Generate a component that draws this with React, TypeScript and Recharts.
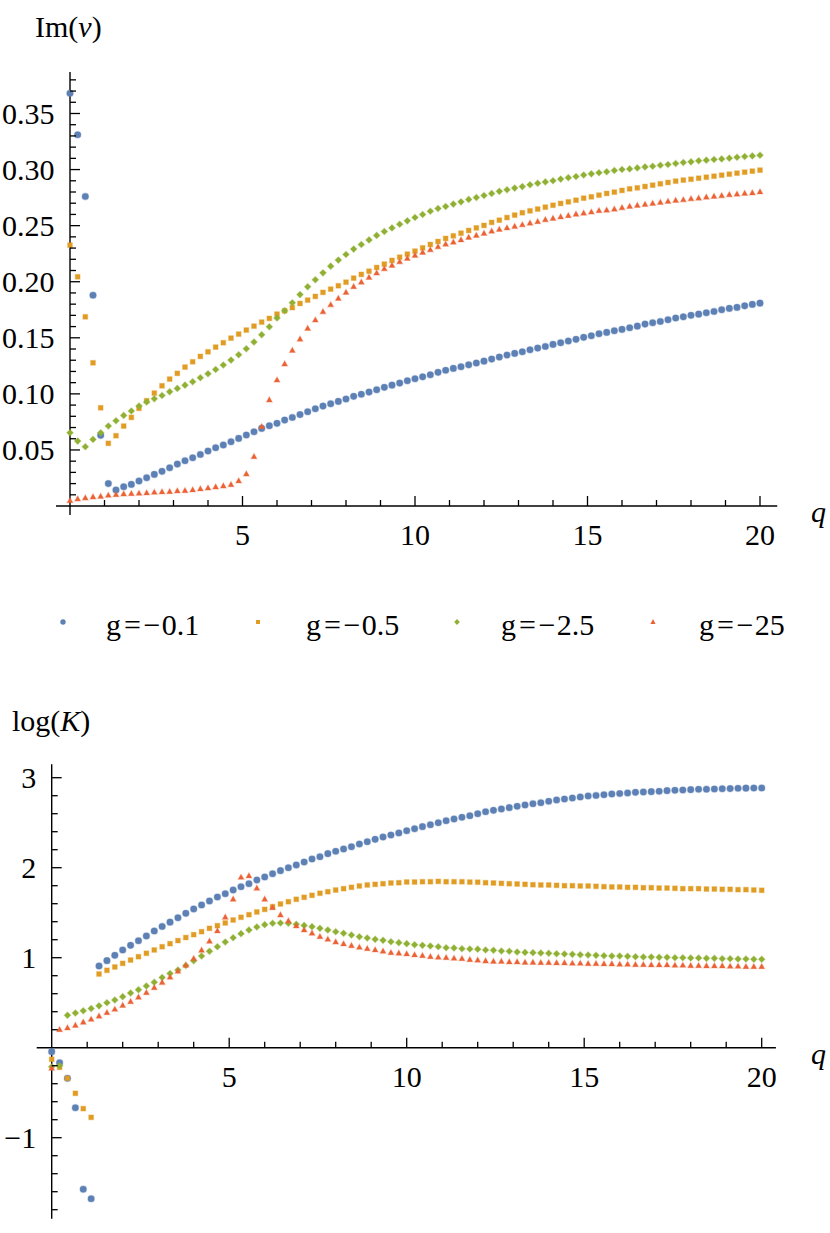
import React from 'react';
import { ScatterChart, Scatter, XAxis, YAxis, ReferenceLine } from 'recharts';

// q grid, 91 points from 0 to 20
const Q = [
  0, 0.222, 0.444, 0.667, 0.889, 1.111, 1.333, 1.556, 1.778,
  2, 2.222, 2.444, 2.667, 2.889, 3.111, 3.333, 3.556, 3.778,
  4, 4.222, 4.444, 4.667, 4.889, 5.111, 5.333, 5.556, 5.778,
  6, 6.222, 6.444, 6.667, 6.889, 7.111, 7.333, 7.556, 7.778,
  8, 8.222, 8.444, 8.667, 8.889, 9.111, 9.333, 9.556, 9.778,
  10, 10.222, 10.444, 10.667, 10.889, 11.111, 11.333, 11.556, 11.778,
  12, 12.222, 12.444, 12.667, 12.889, 13.111, 13.333, 13.556, 13.778,
  14, 14.222, 14.444, 14.667, 14.889, 15.111, 15.333, 15.556, 15.778,
  16, 16.222, 16.444, 16.667, 16.889, 17.111, 17.333, 17.556, 17.778,
  18, 18.222, 18.444, 18.667, 18.889, 19.111, 19.333, 19.556, 19.778,
  20,
];

// Im(nu)
const IM_G01 = [
  0.368, 0.331, 0.276, 0.188, 0.063, 0.020, 0.0143, 0.0172, 0.0193, 0.0223,
  0.0252, 0.0282, 0.0309, 0.0341, 0.0374, 0.0404, 0.043, 0.046, 0.049, 0.052,
  0.0544, 0.0573, 0.0603, 0.0633, 0.0662, 0.0692, 0.0716, 0.0737, 0.0766, 0.079,
  0.0815, 0.0841, 0.0867, 0.0891, 0.0912, 0.0933, 0.0954, 0.0978, 0.0996, 0.1016,
  0.1037, 0.1058, 0.1078, 0.1096, 0.1117, 0.1135, 0.1152, 0.117, 0.1192, 0.121,
  0.1227, 0.1242, 0.1259, 0.1275, 0.1292, 0.131, 0.1328, 0.1346, 0.1361, 0.1375,
  0.1393, 0.1408, 0.1423, 0.1441, 0.1456, 0.1471, 0.1486, 0.1504, 0.1518, 0.1536,
  0.1548, 0.1563, 0.1575, 0.1589, 0.1604, 0.1622, 0.1634, 0.1646, 0.1661, 0.1676,
  0.1687, 0.17, 0.1711, 0.1723, 0.1735, 0.175, 0.1762, 0.1771, 0.1785, 0.1798, 0.1809,
];
const IM_G05 = [
  0.2326, 0.2044, 0.1687, 0.1277, 0.0876, 0.0559, 0.0627, 0.0713, 0.079, 0.0871,
  0.0939, 0.1007, 0.1072, 0.1132, 0.1183, 0.1239, 0.1286, 0.1334, 0.1375, 0.1417,
  0.1456, 0.1497, 0.1533, 0.1569, 0.1604, 0.164, 0.1673, 0.1711, 0.1741, 0.1769,
  0.1806, 0.1836, 0.1869, 0.1905, 0.1934, 0.1964, 0.1996, 0.2032, 0.2065, 0.2094,
  0.2127, 0.2157, 0.219, 0.2219, 0.2246, 0.2273, 0.2302, 0.2332, 0.2359, 0.2386,
  0.2409, 0.2433, 0.2457, 0.248, 0.2502, 0.2529, 0.2549, 0.2572, 0.2594, 0.2615,
  0.2632, 0.2648, 0.2665, 0.2682, 0.2698, 0.2712, 0.2727, 0.2745, 0.2757, 0.2772,
  0.2787, 0.2799, 0.2814, 0.2828, 0.2837, 0.2849, 0.2861, 0.2873, 0.2885, 0.2897,
  0.2906, 0.2914, 0.2923, 0.2932, 0.2941, 0.295, 0.2959, 0.2968, 0.2977, 0.2986, 0.2995,
];
const IM_G25 = [
  0.0653, 0.0579, 0.0529, 0.0594, 0.0653, 0.0713, 0.076, 0.0808, 0.0847, 0.0891,
  0.0927, 0.0956, 0.0986, 0.1019, 0.1049, 0.1078, 0.1108, 0.1144, 0.1179, 0.1218,
  0.1257, 0.1301, 0.1349, 0.1402, 0.1462, 0.1527, 0.1598, 0.1676, 0.1741, 0.1812,
  0.1885, 0.1955, 0.2017, 0.2079, 0.2139, 0.2193, 0.2243, 0.2291, 0.2332, 0.2373,
  0.2413, 0.2448, 0.248, 0.2513, 0.2543, 0.2573, 0.26, 0.2629, 0.2653, 0.2671,
  0.2692, 0.2712, 0.2734, 0.2751, 0.2769, 0.2787, 0.2806, 0.282, 0.2835, 0.2848,
  0.2864, 0.2878, 0.289, 0.2901, 0.2915, 0.2928, 0.2938, 0.2951, 0.2962, 0.2972,
  0.298, 0.2992, 0.3001, 0.3006, 0.3015, 0.3024, 0.303, 0.3039, 0.3045, 0.3054,
  0.3063, 0.3069, 0.3078, 0.3084, 0.309, 0.3095, 0.3102, 0.311, 0.3116, 0.3122, 0.3128,
];
const IM_G250 = [
  0.0048, 0.0062, 0.0071, 0.008, 0.0086, 0.0095, 0.0101, 0.0107, 0.011, 0.0113,
  0.0116, 0.0122, 0.0125, 0.0128, 0.0134, 0.0137, 0.0143, 0.0152, 0.016, 0.0169,
  0.0178, 0.019, 0.0223, 0.0285, 0.044, 0.0707, 0.0945, 0.1123, 0.1266, 0.1387,
  0.1487, 0.1583, 0.1658, 0.1732, 0.1794, 0.1851, 0.1905, 0.1955, 0.1996, 0.2038,
  0.2077, 0.2115, 0.2145, 0.2177, 0.2208, 0.2234, 0.2261, 0.2284, 0.2311, 0.2335,
  0.2353, 0.2373, 0.2395, 0.2413, 0.243, 0.2451, 0.2466, 0.248, 0.2492, 0.2507,
  0.2522, 0.2535, 0.2552, 0.2564, 0.2577, 0.2589, 0.2601, 0.2611, 0.2621, 0.2633,
  0.2638, 0.2647, 0.2659, 0.2671, 0.268, 0.2689, 0.2698, 0.2707, 0.2716, 0.2725,
  0.273, 0.2739, 0.2745, 0.2754, 0.276, 0.2766, 0.2775, 0.2781, 0.2787, 0.2792, 0.2801,
];

// log(K)
const LK_G01 = [
  -0.044, -0.167, -0.34, -0.667, -1.573, -1.678, 0.908, 0.967, 1.026, 1.086,
  1.137, 1.189, 1.241, 1.297, 1.347, 1.395, 1.444, 1.493, 1.541, 1.586,
  1.63, 1.674, 1.711, 1.752, 1.789, 1.822, 1.863, 1.897, 1.933, 1.967,
  2.0, 2.03, 2.063, 2.097, 2.122, 2.156, 2.182, 2.208, 2.233, 2.263,
  2.289, 2.315, 2.341, 2.363, 2.386, 2.411, 2.433, 2.456, 2.478, 2.5,
  2.522, 2.541, 2.56, 2.578, 2.6, 2.622, 2.637, 2.652, 2.667, 2.682,
  2.697, 2.711, 2.722, 2.738, 2.752, 2.763, 2.774, 2.786, 2.797, 2.803,
  2.811, 2.819, 2.824, 2.83, 2.837, 2.841, 2.845, 2.849, 2.856, 2.86,
  2.863, 2.867, 2.871, 2.872, 2.874, 2.877, 2.879, 2.882, 2.884, 2.885, 2.886,
];
const LK_G05 = [
  -0.129, -0.218, -0.34, -0.507, -0.677, -0.774, 0.819, 0.86, 0.897, 0.937,
  0.974, 1.011, 1.049, 1.086, 1.122, 1.156, 1.19, 1.224, 1.256, 1.289,
  1.326, 1.356, 1.386, 1.419, 1.449, 1.478, 1.508, 1.537, 1.567, 1.597,
  1.622, 1.649, 1.671, 1.693, 1.716, 1.733, 1.752, 1.767, 1.782, 1.797,
  1.808, 1.815, 1.822, 1.83, 1.833, 1.841, 1.841, 1.844, 1.844, 1.848,
  1.844, 1.844, 1.844, 1.84, 1.839, 1.833, 1.83, 1.826, 1.822, 1.819,
  1.815, 1.811, 1.808, 1.808, 1.804, 1.8, 1.8, 1.797, 1.797, 1.793,
  1.789, 1.786, 1.786, 1.782, 1.782, 1.778, 1.778, 1.774, 1.774, 1.771,
  1.767, 1.767, 1.767, 1.763, 1.763, 1.76, 1.76, 1.756, 1.756, 1.752, 1.749,
];
const LK_G25 = [
  -0.211, -0.2, 0.36, 0.385, 0.41, 0.435, 0.465, 0.5, 0.53, 0.567,
  0.608, 0.644, 0.686, 0.728, 0.78, 0.824, 0.863, 0.913, 0.966, 1.019,
  1.071, 1.122, 1.174, 1.222, 1.267, 1.308, 1.341, 1.367, 1.382, 1.385,
  1.382, 1.371, 1.359, 1.345, 1.326, 1.308, 1.289, 1.271, 1.252, 1.233,
  1.219, 1.204, 1.193, 1.178, 1.167, 1.156, 1.144, 1.137, 1.13, 1.122,
  1.111, 1.108, 1.1, 1.097, 1.095, 1.086, 1.082, 1.074, 1.071, 1.063,
  1.059, 1.056, 1.052, 1.049, 1.044, 1.041, 1.037, 1.033, 1.03, 1.026,
  1.022, 1.019, 1.019, 1.015, 1.011, 1.008, 1.008, 1.004, 1.004, 1.0,
  1.0, 0.997, 0.997, 0.993, 0.993, 0.989, 0.989, 0.986, 0.986, 0.982, 0.982,
];
const LK_G250 = [
  -0.229, 0.2, 0.22, 0.247, 0.282, 0.315, 0.35, 0.389, 0.426, 0.469,
  0.511, 0.56, 0.611, 0.667, 0.724, 0.783, 0.85, 0.915, 0.99, 1.082,
  1.182, 1.297, 1.449, 1.649, 1.893, 1.908, 1.771, 1.649, 1.556, 1.474,
  1.408, 1.352, 1.308, 1.271, 1.233, 1.204, 1.174, 1.152, 1.133, 1.115,
  1.1, 1.086, 1.071, 1.056, 1.049, 1.041, 1.03, 1.022, 1.011, 1.004,
  1.0, 0.993, 0.989, 0.978, 0.973, 0.963, 0.959, 0.959, 0.952, 0.952,
  0.948, 0.948, 0.944, 0.944, 0.941, 0.941, 0.937, 0.937, 0.933, 0.933,
  0.93, 0.93, 0.926, 0.926, 0.922, 0.922, 0.919, 0.919, 0.919, 0.915,
  0.915, 0.911, 0.911, 0.908, 0.908, 0.908, 0.904, 0.904, 0.9, 0.9, 0.9,
];

// legend: g value text after "g=", minus sign added when drawn
const LEGEND_G = ['0.1', '0.5', '2.5', '25'];

const X_TICKS = [1, 2, 3, 4, 5, 6, 7, 8, 9, 10, 11, 12, 13, 14, 15, 16, 17, 18, 19, 20];
const X_MAJOR = [5, 10, 15, 20];
const TOP_Y_TICKS = [
  0.01, 0.02, 0.03, 0.04, 0.05, 0.06, 0.07, 0.08, 0.09, 0.1,
  0.11, 0.12, 0.13, 0.14, 0.15, 0.16, 0.17, 0.18, 0.19, 0.2,
  0.21, 0.22, 0.23, 0.24, 0.25, 0.26, 0.27, 0.28, 0.29, 0.3,
  0.31, 0.32, 0.33, 0.34, 0.35, 0.36, 0.37, 0.38,
];
const TOP_Y_MAJOR = [0.05, 0.1, 0.15, 0.2, 0.25, 0.3, 0.35];
const BOT_Y_TICKS = [
  -1.8, -1.6, -1.4, -1.2, -1, -0.8, -0.6, -0.4, -0.2,
  0.2, 0.4, 0.6, 0.8, 1, 1.2, 1.4, 1.6, 1.8, 2, 2.2, 2.4, 2.6, 2.8, 3,
];
const BOT_Y_MAJOR = [-1, 1, 2, 3];

const BLUE = '#5e81b5';
const ORANGE = '#e19c24';
const GREEN = '#8fb032';
const RED = '#eb6235';
const FONT = "'Liberation Serif', 'Times New Roman', Times, serif";
const FS = 30;
const TXT = { fontFamily: FONT, fontSize: FS };

const pts = (vals: number[]) => Q.map((q, i) => ({ q, v: vals[i] }));
const has = (list: number[], v: number) => list.some((m) => Math.abs(m - v) < 1e-9);

// markers
const Dot = (p: any) => (
  <circle cx={p.cx} cy={p.cy} r={3.3} fill={BLUE} stroke={BLUE} strokeOpacity={0.3} strokeWidth={1.2} />
);
const Sq = (p: any) => (
  <rect x={p.cx - 2.4} y={p.cy - 2.4} width={4.8} height={4.8} fill={ORANGE} stroke={ORANGE} strokeOpacity={0.3} strokeWidth={1.2} />
);
const Dia = (p: any) => (
  <polygon
    points={`${p.cx},${p.cy - 3.3} ${p.cx + 3.3},${p.cy} ${p.cx},${p.cy + 3.3} ${p.cx - 3.3},${p.cy}`}
    fill={GREEN} stroke={GREEN} strokeOpacity={0.3} strokeWidth={1.2}
  />
);
const Tri = (p: any) => (
  <polygon
    points={`${p.cx},${p.cy - 3.2} ${p.cx + 2.9},${p.cy + 2} ${p.cx - 2.9},${p.cy + 2}`}
    fill={RED} stroke={RED} strokeOpacity={0.3} strokeWidth={1.2}
  />
);

// y ticks drawn inward from the axis, labels only on majors
const yTick = (majors: number[], fmt: (v: number) => string) => (props: any) => {
  const { x, y, payload } = props;
  const major = has(majors, payload.value);
  return (
    <g>
      <line x1={x} x2={x + (major ? 10 : 6)} y1={y} y2={y} stroke="#000" strokeWidth={1.3} />
      {major && (
        <text x={x - 15.5} y={y} dy="0.34em" textAnchor="end" style={TXT} fill="#000">
          {fmt(payload.value)}
        </text>
      )}
    </g>
  );
};

// x ticks sit on the y=0 line, which is `shift` px above the plot bottom
const xTick = (shift: number) => (props: any) => {
  const { x, y, payload } = props;
  const y0 = y - shift;
  const major = has(X_MAJOR, payload.value);
  return (
    <g>
      <line x1={x} x2={x} y1={y0} y2={y0 - (major ? 10 : 6)} stroke="#000" strokeWidth={1.3} />
      {major && (
        <text x={x} y={y0 + 39} textAnchor="middle" style={TXT} fill="#000">
          {payload.value}
        </text>
      )}
    </g>
  );
};

const xAxisLine = (ext: number) => (p: any) => (
  <line x1={p.x1 - ext} x2={p.x2} y1={p.y1} y2={p.y2} stroke="#000" strokeWidth={1.4} />
);

const TOP_Y_DOMAIN = [-0.008, 0.387];
const TOP_PLOT_H = 443;
const BOT_Y_DOMAIN = [-1.9, 3.15];
const BOT_PLOT_H = 454.5;

const topShift = ((0 - TOP_Y_DOMAIN[0]) / (TOP_Y_DOMAIN[1] - TOP_Y_DOMAIN[0])) * TOP_PLOT_H;
const botShift = ((0 - BOT_Y_DOMAIN[0]) / (BOT_Y_DOMAIN[1] - BOT_Y_DOMAIN[0])) * BOT_PLOT_H;

const fmtTop = (v: number) => v.toFixed(2);
const fmtBot = (v: number) => (v < 0 ? '\u2212' + Math.abs(v) : String(v));

const Panel = ({ top, height, margin, xDomain, yDomain, yTicks, yMajor, fmt, shift, ext, series }: any) => (
  <div style={{ position: 'absolute', left: 0, top }}>
    <ScatterChart width={830} height={height} margin={margin}>
      <XAxis
        type="number" dataKey="q" domain={xDomain} ticks={X_TICKS} interval={0}
        axisLine={false} tickLine={false} tickSize={0} tickMargin={0} height={10}
        tick={xTick(shift)}
      />
      <YAxis
        type="number" dataKey="v" domain={yDomain} ticks={yTicks} interval={0}
        axisLine={{ stroke: '#000', strokeWidth: 1.4 }} tickLine={false} tickSize={0} tickMargin={0} width={30}
        tick={yTick(yMajor, fmt)}
      />
      <ReferenceLine y={0} shape={xAxisLine(ext)} />
      <Scatter data={pts(series[0])} shape={Dot} isAnimationActive={false} />
      <Scatter data={pts(series[1])} shape={Sq} isAnimationActive={false} />
      <Scatter data={pts(series[2])} shape={Dia} isAnimationActive={false} />
      <Scatter data={pts(series[3])} shape={Tri} isAnimationActive={false} />
    </ScatterChart>
  </div>
);

const LEGEND_MARK_X = [63, 258, 457, 653];
const LEGEND_TEXT_X = [106, 306, 501, 699];

const LegendRow = () => (
  <svg width={830} height={60} style={{ position: 'absolute', left: 0, top: 595 }}>
    <circle cx={LEGEND_MARK_X[0]} cy={27} r={2.7} fill={BLUE} />
    <rect x={LEGEND_MARK_X[1] - 2} y={25} width={4} height={4} fill={ORANGE} />
    <polygon points={`${LEGEND_MARK_X[2]},24 ${LEGEND_MARK_X[2] + 2.8},27 ${LEGEND_MARK_X[2]},30 ${LEGEND_MARK_X[2] - 2.8},27`} fill={GREEN} />
    <polygon points={`${LEGEND_MARK_X[3]},24 ${LEGEND_MARK_X[3] + 2.6},29 ${LEGEND_MARK_X[3] - 2.6},29`} fill={RED} />
    {LEGEND_G.map((t, i) => (
      <text key={t} x={LEGEND_TEXT_X[i]} y={40} style={TXT} fill="#000">
        g<tspan dx={3}>=</tspan><tspan dx={2.5}>{'\u2212'}</tspan><tspan dx={1.5}>{t}</tspan>
      </text>
    ))}
  </svg>
);

export default function App() {
  return (
    <div style={{ position: 'absolute', left: 0, top: 0, width: 830, height: 1233, background: '#fff', overflow: 'hidden' }}>
      <Panel
        top={0} height={560}
        margin={{ top: 72, right: 52.75, bottom: 35, left: 40 }}
        xDomain={[0, 20.5]} yDomain={TOP_Y_DOMAIN}
        yTicks={TOP_Y_TICKS} yMajor={TOP_Y_MAJOR} fmt={fmtTop}
        shift={topShift} ext={14}
        series={[IM_G01, IM_G05, IM_G25, IM_G250]}
      />
      <Panel
        top={690} height={543}
        margin={{ top: 74.2, right: 54.1, bottom: 4.3, left: 21.7 }}
        xDomain={[0, 20.4]} yDomain={BOT_Y_DOMAIN}
        yTicks={BOT_Y_TICKS} yMajor={BOT_Y_MAJOR} fmt={fmtBot}
        shift={botShift} ext={15}
        series={[LK_G01, LK_G05, LK_G25, LK_G250]}
      />
      <LegendRow />
      <svg width={830} height={1233} style={{ position: 'absolute', left: 0, top: 0, pointerEvents: 'none' }}>
        <text x={35} y={37} style={TXT} fill="#000">
          Im(<tspan fontStyle="italic">ν</tspan>)
        </text>
        <text x={12} y={731} style={TXT} fill="#000">
          log(<tspan fontStyle="italic">K</tspan>)
        </text>
        <text x={811} y={522} style={{ ...TXT, fontStyle: 'italic' }} fill="#000">q</text>
        <text x={811} y={1064} style={{ ...TXT, fontStyle: 'italic' }} fill="#000">q</text>
      </svg>
    </div>
  );
}
